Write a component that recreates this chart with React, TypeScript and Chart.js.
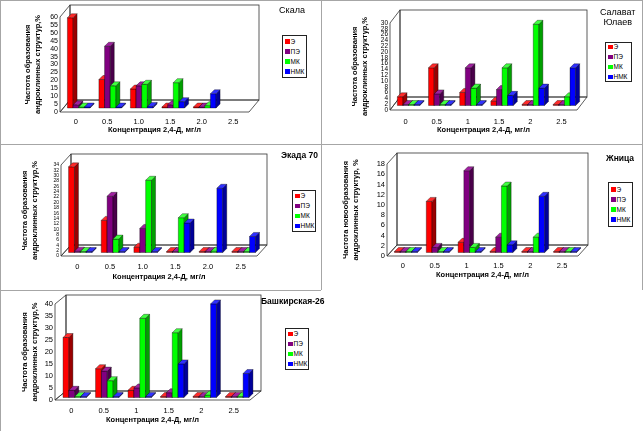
import { useEffect, useRef } from 'react'
import { Chart, registerables } from 'chart.js'

Chart.register(...registerables)

const FONT = 'Arial, "Liberation Sans", sans-serif'

const series = ['Э', 'ПЭ', 'МК', 'НМК']
const frontColors = ['#ff0000', '#800080', '#00ff00', '#0000ff']
const sideColors = ['#9a0000', '#4a004a', '#00a000', '#00009a']
const topColors = ['#ff2a2a', '#a020a0', '#40ff40', '#3030ff']

const concDot = ['0', '0.5', '1.0', '1.5', '2.0', '2.5']
const concPlain = ['0', '0.5', '1', '1.5', '2', '2.5']

const xTitle = 'Концентрация 2,4-Д, мг/л'
const yTitleA = ['Частота образования', 'андроклинных структур,%']
const yTitleB = ['Частота новообразования', 'андроклинных структур, %']

// Скала
const skalaE = [57, 18, 12, 0, 0, null]
const skalaPE = [2, 39, 14, 2, 0, null]
const skalaMK = [0, 14, 15, 16, 1.5, null]
const skalaNMK = [0, 0, 1, 4, 9, null]

// Салават Юлаев
const salavatE = [3, 13, 4.5, 1.5, 0, 0]
const salavatPE = [0, 4, 13, 5.5, 0, 0]
const salavatMK = [0, 0, 6, 13, 28, 3]
const salavatNMK = [0, 0, 0, 3.5, 6, 13]

// Экада 70
const ekadaE = [32, 12, 2, 0, 0, 0]
const ekadaPE = [0.5, 21, 9, 0, 0, 0]
const ekadaMK = [0, 5, 27, 13, 0.5, 0]
const ekadaNMK = [0, 0, 0, 11, 24, 6]

// Жница
const zhnitsaE = [0, 10, 2, 0, 0, 0]
const zhnitsaPE = [0, 1, 16, 3, 0, 0]
const zhnitsaMK = [0, 0, 1, 13, 3, 0]
const zhnitsaNMK = [0, 0, 0, 1.5, 11, 0]

// Башкирская-26
const bashE = [25, 12, 3, 0, 0, 0]
const bashPE = [3, 11, 4, 2, 0, 0]
const bashMK = [0, 7, 33, 27, 1, 0]
const bashNMK = [0, 0, 0, 14, 39, 10]

type Num = number | null

const BAR_DEPTH = 4

function poly(ctx: CanvasRenderingContext2D, pts: number[][], fill?: string) {
  ctx.beginPath()
  ctx.moveTo(pts[0][0], pts[0][1])
  for (let i = 1; i < pts.length; i++) ctx.lineTo(pts[i][0], pts[i][1])
  ctx.closePath()
  if (fill) {
    ctx.fillStyle = fill
    ctx.fill()
  }
  ctx.stroke()
}

// draws the excel-like 3d box and the bars (front, top, side faces) from the bar elements
const box3d = {
  id: 'box3d',
  beforeDatasetsDraw(chart: any, _args: any, opts: any) {
    const { ctx } = chart
    const { left, right, top, bottom } = chart.chartArea
    const [dx, dy] = opts.depth as number[]
    ctx.save()
    ctx.strokeStyle = '#333'
    ctx.lineWidth = 0.8
    poly(ctx, [[left, bottom], [left, top], [left + dx, top + dy], [left + dx, bottom + dy]])
    ctx.strokeRect(left + dx, top + dy, right - left, bottom - top)
    poly(ctx, [[left, bottom], [right, bottom], [right + dx, bottom + dy], [left + dx, bottom + dy]])

    const ox = (dx - BAR_DEPTH) / 2
    const oy = (dy + BAR_DEPTH) / 2
    const d = BAR_DEPTH
    ctx.lineWidth = 0.5
    ctx.strokeStyle = 'rgba(0,0,0,0.7)'
    const n = chart.data.labels.length
    const sets = chart.data.datasets
    for (let j = 0; j < n; j++) {
      for (let i = 0; i < sets.length; i++) {
        if (sets[i].data[j] == null) continue
        const el = chart.getDatasetMeta(i).data[j]
        const { x, y, base, width } = el.getProps(['x', 'y', 'base', 'width'], true)
        const xl = x - width / 2 + ox
        const xr = x + width / 2 + ox
        const yb = base + oy
        const yt = Math.min(y + oy, yb - 1)
        poly(ctx, [[xl, yt], [xr, yt], [xr, yb], [xl, yb]], frontColors[i])
        poly(ctx, [[xr, yt], [xr + d, yt - d], [xr + d, yb - d], [xr, yb]], sideColors[i])
        poly(ctx, [[xl, yt], [xr, yt], [xr + d, yt - d], [xl + d, yt - d]], topColors[i])
      }
    }
    ctx.restore()
    return false
  },
}

interface PanelProps {
  box: number[] // left, top, width, height
  labels: string[]
  values: Num[][]
  yMax: number
  yStep: number
  yFont: number
  yTitle: string[]
  yTitleX: number
  xLabelPad: number
  xTitleY: number
  area: number[] // left, top, right, bottom
  depth: number[]
  title: string[]
  titlePos: number[] // left, top
  titleSize: number
  titleBold: boolean
  legend: number[] // left, top, width, height
}

function Panel(p: PanelProps) {
  const canvasRef = useRef<HTMLCanvasElement>(null)
  const [bx, by, W, H] = p.box

  useEffect(() => {
    if (!canvasRef.current) return
    const [cl, ct, cr, cb] = p.area
    const lh = 7.5 * 1.3
    const chart = new Chart(canvasRef.current, {
      type: 'bar',
      data: {
        labels: p.labels,
        datasets: series.map((name, i) => ({
          label: name,
          data: p.values[i] as any,
          backgroundColor: frontColors[i],
        })),
      },
      options: {
        animation: false,
        responsive: false,
        layout: { padding: { left: 4, top: ct, right: W - cr, bottom: 4 } },
        datasets: { bar: { categoryPercentage: 0.72, barPercentage: 1 } },
        plugins: {
          legend: { display: false },
          tooltip: { enabled: false },
          box3d: { depth: p.depth },
        } as any,
        scales: {
          x: {
            grid: { display: false, drawTicks: false },
            border: { display: false },
            ticks: { color: '#000', font: { family: FONT, size: 7.5 }, padding: p.xLabelPad, maxRotation: 0, autoSkip: false },
            title: {
              display: true,
              text: xTitle,
              color: '#000',
              font: { family: FONT, size: 7.5, weight: 'bold', lineHeight: 1.3 },
              padding: { top: 0, bottom: H - 4 - lh / 2 - p.xTitleY },
            },
            afterFit: (s: any) => { s.height = H - 4 - cb },
          },
          y: {
            min: 0,
            max: p.yMax,
            grid: { display: false, drawTicks: false },
            border: { display: false },
            ticks: { stepSize: p.yStep, color: '#000', font: { family: FONT, size: p.yFont }, padding: 2, autoSkip: false, maxTicksLimit: 60 },
            title: {
              display: true,
              text: p.yTitle,
              color: '#000',
              font: { family: FONT, size: 7.5, weight: 'bold', lineHeight: 1.3 },
              padding: { top: p.yTitleX - 4 - lh / 2, bottom: 0 },
            },
            afterFit: (s: any) => { s.width = cl - 4 },
          },
        },
      },
      plugins: [box3d],
    })
    return () => { chart.destroy() }
  }, [p, W, H])

  const [lx, ly, lw, lhgt] = p.legend
  return (
    <div style={{ position: 'absolute', left: bx, top: by, width: W, height: H }}>
      <canvas ref={canvasRef} width={W} height={H} style={{ display: 'block' }} />
      <div
        style={{
          position: 'absolute',
          left: p.titlePos[0],
          top: p.titlePos[1],
          fontSize: p.titleSize,
          lineHeight: '10px',
          fontWeight: p.titleBold ? 'bold' : 'normal',
          textAlign: 'center',
          whiteSpace: 'nowrap',
        }}
      >
        {p.title.map((t) => <div key={t}>{t}</div>)}
      </div>
      <div
        style={{
          position: 'absolute',
          left: lx,
          top: ly,
          width: lw,
          height: lhgt,
          boxSizing: 'border-box',
          border: '1px solid #222',
          background: '#fff',
          display: 'flex',
          flexDirection: 'column',
          justifyContent: 'center',
          fontSize: 6.5,
          whiteSpace: 'nowrap',
        }}
      >
        {series.map((s, i) => (
          <div key={s} style={{ display: 'flex', alignItems: 'center', height: 10, lineHeight: '10px' }}>
            <span style={{ width: 4.5, height: 4.5, background: frontColors[i], margin: '0 1px 0 2px', flex: 'none' }} />
            {s}
          </div>
        ))}
      </div>
    </div>
  )
}

const panels: PanelProps[] = [
  {
    box: [0, 0, 321, 144], labels: concDot, values: [skalaE, skalaPE, skalaMK, skalaNMK],
    yMax: 60, yStep: 5, yFont: 7, yTitle: yTitleA, yTitleX: 28, xLabelPad: 5.5, xTitleY: 130,
    area: [60, 17, 249, 112], depth: [10, -12],
    title: ['Скала'], titlePos: [279, 5], titleSize: 9, titleBold: false, legend: [282, 35, 25, 43],
  },
  {
    box: [321, 0, 322, 144], labels: concPlain, values: [salavatE, salavatPE, salavatMK, salavatNMK],
    yMax: 30, yStep: 2, yFont: 6.5, yTitle: yTitleA, yTitleX: 34, xLabelPad: 7.5, xTitleY: 130,
    area: [69, 23, 256, 110], depth: [10, -13],
    title: ['Салават', 'Юлаев'], titlePos: [279, 7], titleSize: 9, titleBold: false, legend: [284, 42, 27, 40],
  },
  {
    box: [0, 144, 321, 146], labels: concDot, values: [ekadaE, ekadaPE, ekadaMK, ekadaNMK],
    yMax: 34, yStep: 2, yFont: 5, yTitle: yTitleA, yTitleX: 25, xLabelPad: 6.5, xTitleY: 133,
    area: [61, 21, 257, 112], depth: [10, -11],
    title: ['Экада 70'], titlePos: [281, 6], titleSize: 8.5, titleBold: true, legend: [292, 46, 24, 42],
  },
  {
    box: [321, 144, 322, 146], labels: concPlain, values: [zhnitsaE, zhnitsaPE, zhnitsaMK, zhnitsaNMK],
    yMax: 18, yStep: 2, yFont: 7.5, yTitle: yTitleB, yTitleX: 25, xLabelPad: 5.5, xTitleY: 131,
    area: [66, 20, 257, 112], depth: [10, -11],
    title: ['Жница'], titlePos: [285, 9], titleSize: 8.5, titleBold: true, legend: [287, 38, 25, 45],
  },
  {
    box: [0, 290, 321, 141], labels: concPlain, values: [bashE, bashPE, bashMK, bashNMK],
    yMax: 40, yStep: 5, yFont: 7.5, yTitle: yTitleA, yTitleX: 25, xLabelPad: 6.5, xTitleY: 130,
    area: [55, 14, 250, 110], depth: [11, -9],
    title: ['Башкирская-26'], titlePos: [261, 6], titleSize: 8.5, titleBold: true, legend: [285, 38, 24, 42],
  },
]

const LINE = '#a6a6a6'

function Rule({ x, y, w, h }: { x: number; y: number; w: number; h: number }) {
  return <div style={{ position: 'absolute', left: x, top: y, width: w, height: h, background: LINE }} />
}

export default function App() {
  return (
    <div style={{ position: 'absolute', left: 0, top: 0, width: 643, height: 431, background: '#fff', fontFamily: FONT, color: '#000', overflow: 'hidden' }}>
      {panels.map((p, i) => <Panel key={i} {...p} />)}
      <Rule x={0} y={0} w={643} h={1} />
      <Rule x={0} y={0} w={1} h={431} />
      <Rule x={321} y={0} w={1} h={290} />
      <Rule x={642} y={0} w={1} h={290} />
      <Rule x={0} y={144} w={643} h={1} />
      <Rule x={0} y={290} w={321} h={1} />
    </div>
  )
}
